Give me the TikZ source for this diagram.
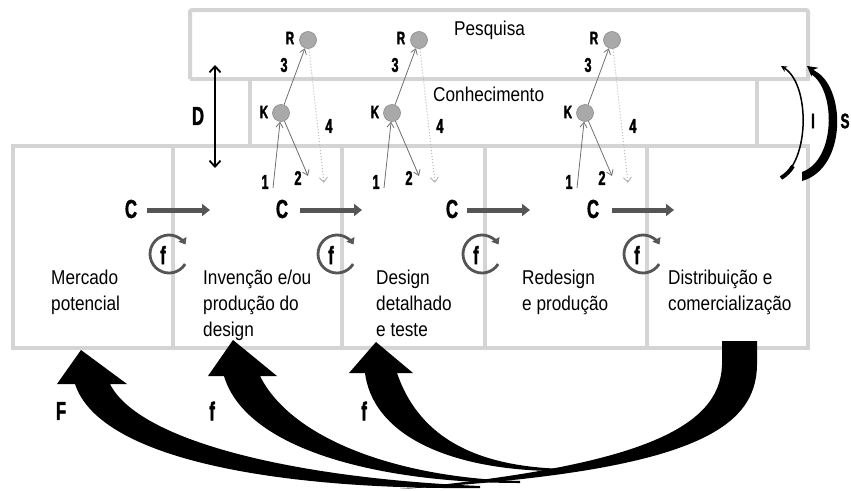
\documentclass[tikz,border=0pt]{standalone}
\usepackage{fontspec}
\setmainfont{Liberation Sans}[FakeStretch=0.86]
\newfontfamily\labfont{Liberation Sans}[UprightFont=* Bold,FakeStretch=0.64,FakeBold=1.6]
\usetikzlibrary{arrows.meta}
\definecolor{boxgray}{HTML}{D4D4D4}
\definecolor{dotgray}{HTML}{A9A9A9}
\definecolor{dotborder}{HTML}{8A8A8A}
\definecolor{thingray}{HTML}{707070}
\definecolor{ltgray}{HTML}{B8B8B8}
\definecolor{cgray}{HTML}{555555}
\begin{document}
\begin{tikzpicture}[x=1pt,y=-1pt,
  frame/.style={draw=boxgray,line width=4pt},
  txt/.style={anchor=base west,inner sep=0,font=\fontsize{20}{26}\selectfont},
  lab/.style={inner sep=0,font=\labfont\fontsize{26}{26}\selectfont},
  lbl/.style={inner sep=0,font=\labfont\fontsize{25}{25}\selectfont},
  side/.style={inner sep=0,font=\labfont\fontsize{21}{21}\selectfont},
  num/.style={inner sep=0,font=\labfont\fontsize{20}{20}\selectfont},
  rk/.style={inner sep=0,font=\labfont\fontsize{18}{18}\selectfont},
  dot/.style={circle,fill=dotgray,draw=dotborder,line width=0.6pt,minimum size=17pt,inner sep=0},
  thinarr/.style={draw=thingray,line width=0.8pt,-{Straight Barb[length=5pt,width=7pt]}},
  dotarr/.style={draw=ltgray,dotted,line width=1pt,-{Straight Barb[length=5pt,width=8pt]}},
  carrow/.style={draw=cgray,line width=5pt,-{Triangle[length=8pt,width=12pt]}},
  cyc/.style={draw=cgray,line width=2.8pt,-{Triangle[open,length=6pt,width=9pt]}}]
\useasboundingbox (0,0) rectangle (851,490);

% frames
\draw[frame,rounded corners=2pt] (190,79) -- (190,10) -- (808,10) -- (808,79);
\draw[frame] (190,79) -- (810,79);
\draw[frame] (250,79) -- (250,146);
\draw[frame] (757,79) -- (757,146);
\draw[frame] (13,146) rectangle (808,348);
\foreach \xx in {173,342,485,647} \draw[frame] (\xx,146) -- (\xx,348);

% headings
\node[txt] (pes) at (454,35) {Pesquisa};
\node[txt] (con) at (433,101) {Conhecimento};

% box texts
\node[txt] (m1) at (51,284) {Mercado};
\node[txt] (m2) at (51,310) {potencial};
\node[txt] (i1) at (203,284) {Invenção e/ou};
\node[txt] (i2) at (203,310) {produção do};
\node[txt] (i3) at (203,336) {design};
\node[txt] (d1) at (376,284) {Design};
\node[txt] (d2) at (376,310) {detalhado};
\node[txt] (d3) at (376,336) {e teste};
\node[txt] (r1) at (522,284) {Redesign};
\node[txt] (r2) at (522,310) {e produção};
\node[txt] (s1) at (668,284) {Distribuição e};
\node[txt] (s2) at (668,310) {comercialização};

% K-R groups
\foreach \o/\n in {0/a,111/b,304/c}{
  \node[dot] (R\n) at (308+\o,40) {};
  \node[dot] (K\n) at (281+\o,113) {};
  \node[rk] (Rl\n) at (290+\o,38) {R};
  \node[rk] (Kl\n) at (264+\o,112) {K};
  \node[num] (n3\n) at (284+\o,65) {3};
  \node[num] (n4\n) at (329+\o,126) {4};
  \node[num] (n1\n) at (265+\o,182) {1};
  \node[num] (n2\n) at (298+\o,178) {2};
  \coordinate (s\n) at (273+\o,188);
  \coordinate (e\n) at (308+\o,176);
  \coordinate (f\n) at (324+\o,183);
  \draw[thinarr] (s\n) -- (K\n);
  \draw[thinarr] (K\n) -- (e\n);
  \draw[thinarr] (K\n) -- (R\n);
  \draw[dotarr] (R\n) -- (f\n);
}

% D arrow
\coordinate (Dt) at (215,65);
\coordinate (Db) at (215,168);
\draw[line width=1.8pt,{Straight Barb[length=6pt,width=11pt]}-{Straight Barb[length=6pt,width=11pt]}] (Dt) -- (Db);
\node[lab] (Dl) at (198,116) {D};

% C arrows
\foreach \cx/\a/\b/\n in {131/147/210/1,282/300/362/2,452/467/530/3,593/612/674/4}{
  \node[lab] (C\n) at (\cx,209) {C};
  \coordinate (ca\n) at (\a,210);
  \coordinate (cb\n) at (\b,210);
  \draw[carrow] (ca\n) -- (cb\n);
}

% f cycles
\foreach \cx/\n in {169/1,337/2,482/3,643/4}{
  \node[lbl] (fc\n) at (\cx-6,255) {f};
  \draw[cyc] ([shift={(32:19)}]\cx,254) arc[start angle=32,end angle=330,radius=19];
}

% I and S arcs
\coordinate (It) at (781,66);
\coordinate (Ib) at (781,178);
\draw[line width=1.5pt,-{Stealth[length=6pt,width=6pt]}] (Ib) .. controls (810,160) and (810,84) .. (It);
\draw[line width=4pt] (781,178) .. controls (786,175) and (790,171) .. (793,166);
\node[side] (Il) at (813,121) {I};
\fill (802,181) .. controls (848,168) and (846,84) .. (813,70) -- (811,74) .. controls (836,90) and (836,160) .. (802,172) -- cycle;
\draw[line width=2pt,-{Stealth[length=10pt,width=11pt]}] (828,90) .. controls (822,80) and (816,73) .. (807,66);
\node[side] (Sl) at (845,121) {S};

% big feedback arrows
\fill (722,341) -- (757,341) -- (757,365) .. controls (756,430) and (690,472) .. (400,489)
      .. controls (640,466) and (720,428) .. (722,365) -- cycle;
% F
\fill (81,350) -- (127,384) -- (110,384) .. controls (138,440) and (290,478) .. (480,486)
      -- (480,488) .. controls (280,490) and (100,460) .. (75,384) -- (57,384) -- cycle;
% f 2
\fill (233,340) -- (277,376) -- (260,376) .. controls (292,440) and (400,478) .. (520,481)
      -- (520,483) .. controls (380,483) and (246,450) .. (224,376) -- (208,376) -- cycle;
% f 3
\fill (376,342) -- (413,373) -- (397,373) .. controls (420,440) and (480,468) .. (570,469)
      -- (570,471) .. controls (460,473) and (374,440) .. (365,373) -- (349,373) -- cycle;
\node[lab] (FF) at (61,411) {F};
\node[lab] (f2) at (212,411) {f};
\node[lab] (f3) at (364,411) {f};
\end{tikzpicture}
\end{document}
